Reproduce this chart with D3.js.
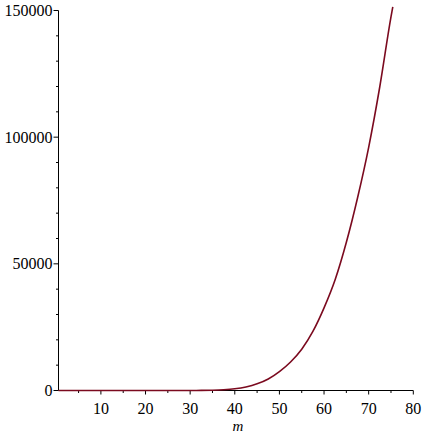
<!DOCTYPE html>
<html>
<head>
<meta charset="utf-8">
<script src="https://d3js.org/d3.v7.min.js"></script>
</head>
<body style="margin:0">
<script>
// values
const mValues = [0.5, 5, 10, 15, 20, 25, 30, 32.5, 35, 37.5, 40, 42.5, 45, 47.5, 50, 52.5, 55, 57.5, 60, 62.5, 65, 67.5, 70, 72.5, 75, 75.4];
const yValues = [0, 0, 0, 0, 0, 2, 8, 30, 110, 290, 660, 1380, 2620, 4550, 7450, 11250, 16300, 23300, 32600, 43800, 58500, 76000, 96000, 120000, 147500, 151400];
const xTicks = [10, 20, 30, 40, 50, 60, 70, 80];
const xMinor = [5, 15, 25, 35, 45, 55, 65, 75];
const yTicks = [0, 50000, 100000, 150000];
const yMinor = [10000, 20000, 30000, 40000, 60000, 70000, 80000, 90000, 110000, 120000, 130000, 140000];
const xLabel = "m";

const serif = `"Times New Roman", "Liberation Serif", Times, serif`;
const svg = d3.select("body").append("svg")
  .attr("width", 428).attr("height", 437)
  .style("font-family", serif);

const x = d3.scaleLinear().domain([0.5, 80]).range([58.5, 413.3]);
const y = d3.scaleLinear().domain([0, 150000]).range([390.5, 10.5]);

// y axis
svg.append("line").attr("x1", x(0.5)).attr("x2", x(0.5))
  .attr("y1", y(0)).attr("y2", y(150000)).attr("stroke", "#000");
svg.selectAll("line.ymaj").data(yTicks).join("line").attr("class", "ymaj")
  .attr("x1", x(0.5) - 5).attr("x2", x(0.5))
  .attr("y1", d => y(d)).attr("y2", d => y(d)).attr("stroke", "#000");
svg.selectAll("line.ymin").data(yMinor).join("line").attr("class", "ymin")
  .attr("x1", x(0.5) - 2.5).attr("x2", x(0.5))
  .attr("y1", d => y(d)).attr("y2", d => y(d)).attr("stroke", "#000");
svg.selectAll("text.ylab").data(yTicks).join("text").attr("class", "ylab")
  .attr("x", x(0.5) - 6).attr("y", d => y(d) + 5.5)
  .attr("text-anchor", "end")
  .style("font-size", "16px").style("font-family", serif)
  .text(d => String(d));

// x axis
svg.append("line").attr("x1", x(0.5)).attr("x2", x(80))
  .attr("y1", y(0)).attr("y2", y(0)).attr("stroke", "#000");
svg.selectAll("line.xmaj").data(xTicks).join("line").attr("class", "xmaj")
  .attr("x1", d => x(d)).attr("x2", d => x(d))
  .attr("y1", y(0)).attr("y2", y(0) + 4).attr("stroke", "#000");
svg.selectAll("line.xmin").data(xMinor).join("line").attr("class", "xmin")
  .attr("x1", d => x(d)).attr("x2", d => x(d))
  .attr("y1", y(0)).attr("y2", y(0) + 2.5).attr("stroke", "#000");
svg.selectAll("text.xlab").data(xTicks).join("text").attr("class", "xlab")
  .attr("x", d => x(d)).attr("y", 413.5)
  .attr("text-anchor", "middle")
  .style("font-size", "16px").style("font-family", serif)
  .text(d => String(d));

svg.append("text")
  .attr("x", 238).attr("y", 430.5)
  .attr("text-anchor", "middle")
  .style("font-size", "15px").style("font-style", "italic").style("font-family", serif)
  .text(xLabel);

// curve
const line = d3.line()
  .x((d, i) => x(mValues[i]))
  .y(d => y(d))
  .curve(d3.curveMonotoneX);

svg.append("path")
  .datum(yValues)
  .attr("d", line)
  .attr("fill", "none")
  .attr("stroke", "#7b0a1f")
  .attr("stroke-width", 1.6);
</script>
</body>
</html>
